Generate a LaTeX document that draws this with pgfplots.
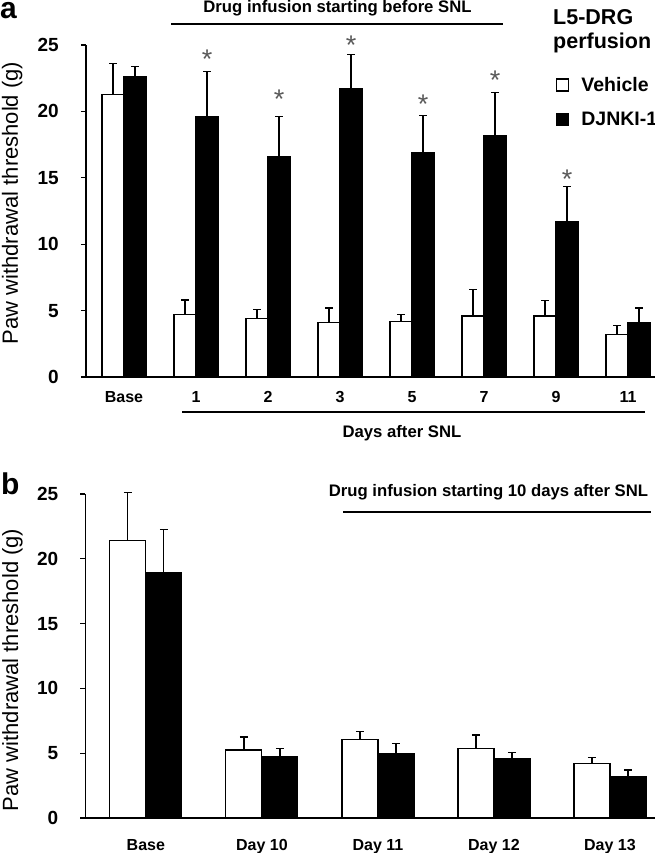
\documentclass[border=0pt]{standalone}
\usepackage{fontspec}
\setmainfont{Liberation Sans}
\usepackage{pgfplots}
\pgfplotsset{compat=1.18}
\tikzset{starnode/.style={font=\fontsize{27}{27}\selectfont, text=black!65, anchor=base, inner sep=0pt}}
\begin{document}
\begin{tikzpicture}
\useasboundingbox (0pt,0pt) rectangle (655pt,853pt);
\pgfplotsset{
  panel/.style={
    scale only axis,
    axis lines*=left,
    axis line style={line width=1.3pt},
    ymin=0, ymax=25,
    ytick={0,5,10,15,20,25},
    tick align=outside,
    major tick length=5pt,
    ytick style={line width=1.3pt, black},
    xtick style={draw=none},
    /pgf/number format/assume math mode=true,
    yticklabel style={font=\bfseries\fontsize{19}{19}\selectfont, inner sep=0pt, anchor=east, xshift=-22pt},
    xticklabel style={font=\bfseries\fontsize{16}{16}\selectfont, inner sep=0pt, anchor=base},
    ylabel={Paw withdrawal threshold (g)},
    clip=false,
  },
  errs/.style={error bars/.cd, y dir=plus, y explicit,
    error bar style={line width=1.3pt, black},
    error mark=|, error mark options={line width=1.3pt, mark size=4pt, black}},
}
% ---------------- Panel a ----------------
\begin{axis}[panel,
  at={(86pt,476pt)}, anchor=south west,
  width=569pt, height=332pt,
  xmin=-0.528, xmax=7.375,
  xtick={0,1,2,3,4,5,6,7},
  xticklabels={Base,1,2,3,5,7,9,11},
  xticklabel style={yshift=-21pt},
  ylabel style={at={(rel axis cs:-0.1195,0.524)}, anchor=base, font=\fontsize{22}{22}\selectfont},
  legend style={at={(rel axis cs:0.826,0.9096)}, anchor=north west, draw=none, fill=none,
    inner sep=0pt, row sep=15pt, font=\bfseries\fontsize{19.5}{19.5}\selectfont,
    /tikz/every odd column/.append style={column sep=10pt}},
  legend cell align=left,
  legend image code/.code={\draw[#1, line width=1.2pt] (0pt,-6pt) rectangle (12pt,6pt);},
]
\addplot[ybar, bar width=22pt, bar shift=0pt, fill=white, draw=black, line width=1.2pt, errs]
  coordinates {
  (-0.1528,21.3) +- (0,2.3)
  (0.8472,4.7)  +- (0,1.1)
  (1.8472,4.4)  +- (0,0.7)
  (2.8472,4.1)  +- (0,1.1)
  (3.8472,4.2)  +- (0,0.5)
  (4.8472,4.6)  +- (0,2.0)
  (5.8472,4.6)  +- (0,1.15)
  (6.8472,3.2)  +- (0,0.7)
  };
\addlegendentry{Vehicle}
\addplot[ybar, bar width=22pt, bar shift=0pt, fill=black, draw=black, line width=1.2pt, errs]
  coordinates {
  (0.1528,22.6) +- (0,0.8)
  (1.1528,19.6) +- (0,3.4)
  (2.1528,16.6) +- (0,3.0)
  (3.1528,21.7) +- (0,2.6)
  (4.1528,16.9) +- (0,2.8)
  (5.1528,18.2) +- (0,3.2)
  (6.1528,11.7) +- (0,2.65)
  (7.1528,4.1)  +- (0,1.1)
  };
\addlegendentry{DJNKI-1}
\node[starnode, yshift=-13pt] at (axis cs:1.1528,24.24) {*};
\node[starnode, yshift=-13pt] at (axis cs:2.1528,21.2) {*};
\node[starnode, yshift=-13pt] at (axis cs:3.1528,25.25) {*};
\node[starnode, yshift=-13pt] at (axis cs:4.1528,20.8) {*};
\node[starnode, yshift=-13pt] at (axis cs:5.1528,22.65) {*};
\node[starnode, yshift=-13pt] at (axis cs:6.1528,15.2) {*};
\end{axis}
% annotations panel a
\node[font=\bfseries\fontsize{30}{30}\selectfont, anchor=base west, inner sep=0pt] at (0pt,834pt) {a};
\node[font=\bfseries\fontsize{16.7}{16.7}\selectfont, anchor=base, inner sep=0pt] at (337.5pt,840pt) {Drug infusion starting before SNL};
\draw[line width=1.2pt] (171pt,829pt) -- (503pt,829pt);
\node[font=\bfseries\fontsize{21.5}{21.5}\selectfont, anchor=base west, inner sep=0pt] at (553pt,828pt) {L5-DRG};
\node[font=\bfseries\fontsize{21.5}{21.5}\selectfont, anchor=base west, inner sep=0pt] at (553pt,804pt) {perfusion};
\draw[line width=1.2pt] (182pt,441pt) -- (645pt,441pt);
\node[font=\bfseries\fontsize{16.7}{16.7}\selectfont, anchor=base, inner sep=0pt] at (402pt,415pt) {Days after SNL};
% ---------------- Panel b ----------------
\begin{axis}[panel,
  at={(85.5pt,35pt)}, anchor=south west,
  width=569.5pt, height=324pt,
  xmin=-0.52, xmax=4.388,
  xtick={0,1,2,3,4},
  xticklabels={Base,Day 10,Day 11,Day 12,Day 13},
  xticklabel style={yshift=-27pt},
  ylabel style={at={(rel axis cs:-0.1185,0.457)}, anchor=base, font=\fontsize{22}{22}\selectfont},
]
\addplot[ybar, bar width=36pt, bar shift=0pt, fill=white, draw=black, line width=1.2pt, errs]
  coordinates {
  (-0.1552,21.4) +- (0,3.7)
  (0.8448,5.25) +- (0,1.0)
  (1.8448,6.05) +- (0,0.65)
  (2.8448,5.35) +- (0,1.05)
  (3.8448,4.2)  +- (0,0.45)
  };
\addplot[ybar, bar width=36pt, bar shift=0pt, fill=black, draw=black, line width=1.2pt, errs]
  coordinates {
  (0.1552,18.9) +- (0,3.35)
  (1.1552,4.75) +- (0,0.6)
  (2.1552,5.0)  +- (0,0.75)
  (3.1552,4.6)  +- (0,0.45)
  (4.1552,3.2)  +- (0,0.5)
  };
\end{axis}
\node[font=\bfseries\fontsize{30}{30}\selectfont, anchor=base west, inner sep=0pt] at (1pt,358pt) {b};
\node[font=\bfseries\fontsize{16.7}{16.7}\selectfont, anchor=base, inner sep=0pt] at (488.5pt,356pt) {Drug infusion starting 10 days after SNL};
\draw[line width=1.2pt] (343pt,341pt) -- (651pt,341pt);
\end{tikzpicture}
\end{document}
